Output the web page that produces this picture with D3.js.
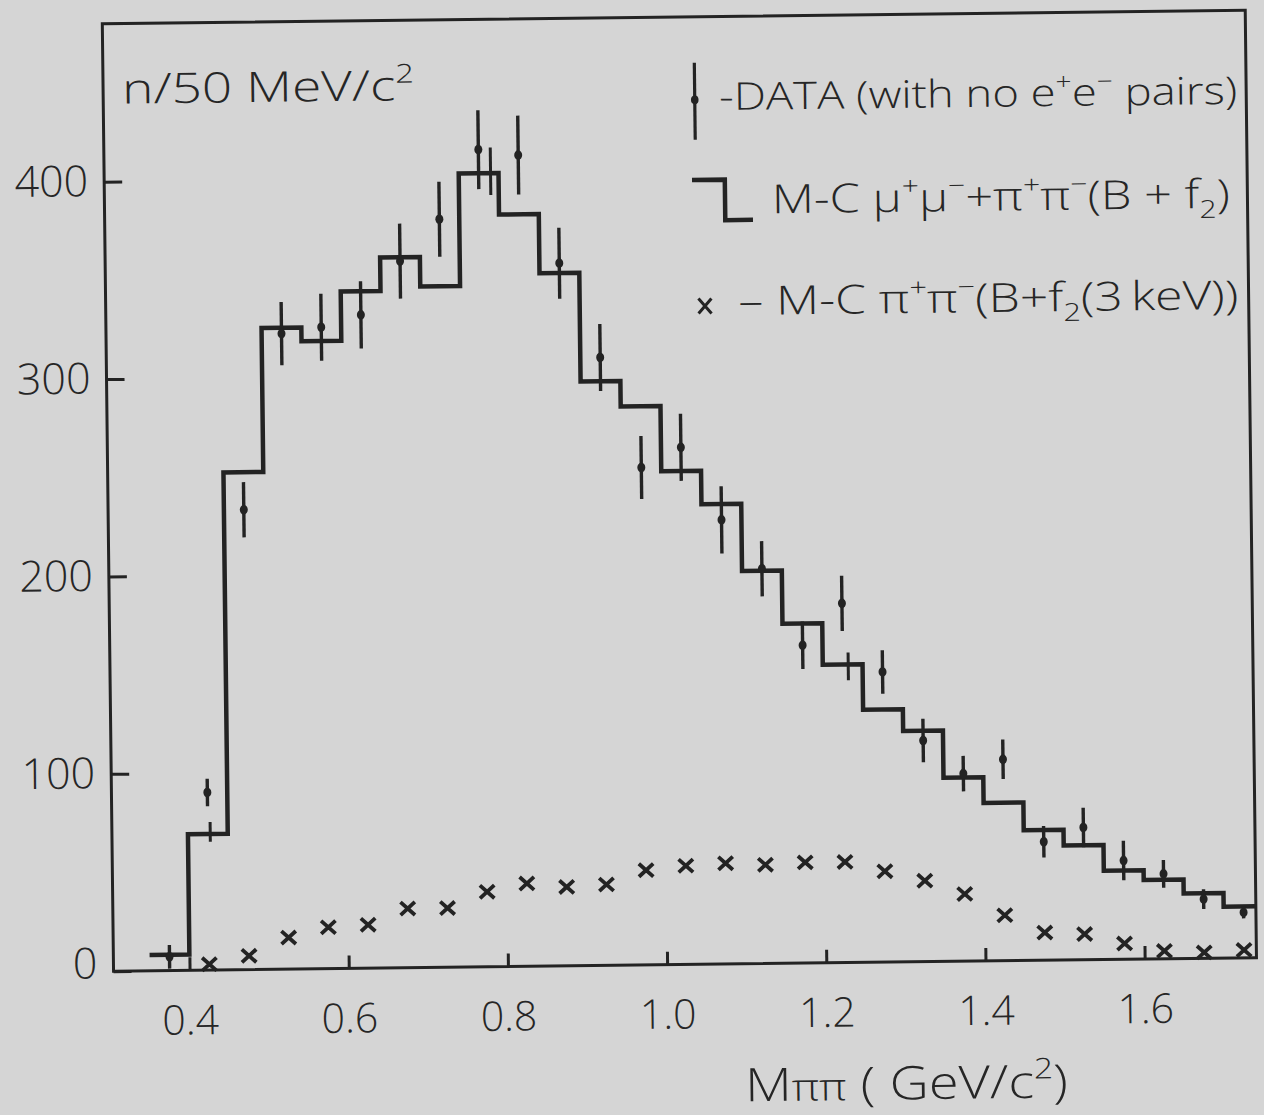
<!DOCTYPE html>
<html>
<head>
<meta charset="utf-8">
<script src="https://cdn.jsdelivr.net/npm/d3@7"></script>
<style>
  html, body { margin: 0; padding: 0; background: #d5d5d5; }
  svg { display: block; }
  text { font-family: "Open Sans", "DejaVu Sans", sans-serif; font-weight: 300; fill: #262626; }
</style>
</head>
<body>
<div id="chart"></div>
<script>
// 50 MeV bins, lower edges in GeV/c^2
const binLo = [0.35, 0.40, 0.45, 0.50, 0.55, 0.60, 0.65, 0.70, 0.75, 0.80, 0.85, 0.90, 0.95, 1.00,
               1.05, 1.10, 1.15, 1.20, 1.25, 1.30, 1.35, 1.40, 1.45, 1.50, 1.55, 1.60, 1.65, 1.70];
const binWidth = 0.05;

// M-C mu+mu- + pi+pi- (B + f2), histogram
const mcTotal = [8, 69, 252, 325, 318, 343, 360, 345, 402, 381, 351, 296, 283, 250,
                 233, 199, 172, 151, 128, 117, 93, 80, 66, 58, 45, 40, 33, 26];

// data (with no e+e- pairs) and its errors
const dataCounts = [7, 90, 233, 322, 325, 331, 358, 379, 414, 411, 356, 308, 252, 262,
                    225, 200, 161, 182, 147, 112, 95, 102, 60, 67, 50, 43, 30, 23];
const dataErr = [6, 7, 14, 16, 17, 17, 19, 19, 20, 20, 18, 17, 16, 17,
                 17, 14, 12, 14, 11, 11, 9, 10, 8, 10, 10, 7, 5, 3];

// M-C pi+pi- (B + f2(3 keV)), crosses
const mcPiPi = [null, 3, 7, 16, 21, 22, 30, 30, 38, 42, 40, 41, 48, 50,
                51, 50, 51, 51, 46, 41, 34, 23, 14, 13, 8, 4, 3, 4];

// the few M-C error bars drawn on the histogram
const mcErrMass = [0.428, 0.79, 1.232];
const mcErrVal = [70, 403, 150];
const mcErrSize = [5, 12, 7];

const xTicks = [0.4, 0.6, 0.8, 1.0, 1.2, 1.4, 1.6];
const yTicks = [0, 100, 200, 300, 400];

const width = 1264, height = 1115;
const frame = { left: 108, right: 1251, top: 17, bottom: 964.5 };
const ink = '#232323';

const svg = d3.select('#chart').append('svg')
    .attr('width', width)
    .attr('height', height);

svg.append('rect')
    .attr('width', width)
    .attr('height', height)
    .attr('fill', '#d5d5d5');

// the scanned figure sits a little tilted on the page
const g = svg.append('g').attr('transform', 'rotate(-0.68 680 500)');

const x = d3.scaleLinear().domain([0.3045, 1.7405]).range([frame.left, frame.right]);
const y = d3.scaleLinear().domain([0, 480]).range([frame.bottom, frame.top]);

// text with superscripts / subscripts
function richText(parent, xPos, yPos, size, parts, len) {
    const t = parent.append('text')
        .attr('x', xPos)
        .attr('y', yPos)
        .attr('font-size', size);
    let shift = 0;
    parts.forEach(p => {
        const s = t.append('tspan').text(p.t);
        let target = 0;
        if (p.sup) target = -0.42 * size;
        if (p.sub) target = 0.25 * size;
        if (target !== shift) {
            s.attr('dy', target - shift);
            shift = target;
        }
        if (p.sup || p.sub) s.attr('font-size', size * 0.62);
        if (p.size) s.attr('font-size', p.size);
    });
    if (len) t.attr('textLength', len).attr('lengthAdjust', 'spacingAndGlyphs');
    return t;
}

// frame
g.append('rect')
    .attr('x', frame.left)
    .attr('y', frame.top)
    .attr('width', frame.right - frame.left)
    .attr('height', frame.bottom - frame.top)
    .attr('fill', 'none')
    .attr('stroke', ink)
    .attr('stroke-width', 3);

// axes (ticks point inward)
const xAxis = d3.axisBottom(x)
    .tickValues(xTicks)
    .tickSizeInner(-13)
    .tickSizeOuter(0)
    .tickPadding(35)
    .tickFormat(d3.format('.1f'));
const gx = g.append('g')
    .attr('transform', `translate(0,${frame.bottom})`)
    .call(xAxis);
gx.select('.domain').remove();
gx.selectAll('line').attr('stroke', ink).attr('stroke-width', 3);
gx.selectAll('text').attr('font-size', 41);

const yAxis = d3.axisLeft(y)
    .tickValues(yTicks)
    .tickSizeInner(-18)
    .tickSizeOuter(0)
    .tickPadding(16)
    .tickFormat(d3.format('d'));
const gy = g.append('g')
    .attr('transform', `translate(${frame.left},0)`)
    .call(yAxis);
gy.select('.domain').remove();
gy.selectAll('line').attr('stroke', ink).attr('stroke-width', 3);
gy.selectAll('text').attr('font-size', 43);
// the hand-lettered "0" sits a little above the axis
gy.selectAll('.tick').filter(d => d === 0).select('text').attr('dy', '0.15em');

// M-C histogram
const xEnd = x.domain()[1];
const steps = binLo.map((lo, i) => [lo, mcTotal[i]]);
steps.push([Math.min(binLo[binLo.length - 1] + binWidth, xEnd), mcTotal[mcTotal.length - 1]]);
const stepLine = d3.line()
    .x(d => x(d[0]))
    .y(d => y(d[1]))
    .curve(d3.curveStepAfter);
g.append('path')
    .attr('d', stepLine(steps))
    .attr('fill', 'none')
    .attr('stroke', ink)
    .attr('stroke-width', 4.5)
    .attr('stroke-linejoin', 'miter');

// M-C error bars on the histogram
g.append('g').selectAll('line')
    .data(mcErrMass.map((m, i) => ({ m, v: mcErrVal[i], e: mcErrSize[i] })))
    .join('line')
    .attr('x1', d => x(d.m)).attr('x2', d => x(d.m))
    .attr('y1', d => y(d.v - d.e)).attr('y2', d => y(d.v + d.e))
    .attr('stroke', ink)
    .attr('stroke-width', 3);

// M-C pi+pi- crosses
const crossPath = (cx, cy, w, h) =>
    `M${cx - w},${cy - h}L${cx + w},${cy + h}M${cx - w},${cy + h}L${cx + w},${cy - h}`;
const crosses = binLo
    .map((lo, i) => ({ m: lo + binWidth / 2, v: mcPiPi[i] }))
    .filter(d => d.v != null);
g.append('g').selectAll('path')
    .data(crosses)
    .join('path')
    .attr('d', d => crossPath(x(d.m), y(d.v), 7.2, 6.5))
    .attr('fill', 'none')
    .attr('stroke', ink)
    .attr('stroke-width', 3.8);

// data points with errors
const points = binLo.map((lo, i) => ({ m: lo + binWidth / 2, v: dataCounts[i], e: dataErr[i] }));
const gp = g.append('g');
gp.selectAll('line')
    .data(points)
    .join('line')
    .attr('x1', d => x(d.m)).attr('x2', d => x(d.m))
    .attr('y1', d => y(Math.max(0, d.v - d.e))).attr('y2', d => y(d.v + d.e))
    .attr('stroke', ink)
    .attr('stroke-width', 3.4);
gp.selectAll('ellipse')
    .data(points)
    .join('ellipse')
    .attr('cx', d => x(d.m))
    .attr('cy', d => y(d.v))
    .attr('rx', 4)
    .attr('ry', 4.8)
    .attr('fill', ink);

// y label inside the frame
richText(g, 127, 97, 42, [{ t: 'n/50 MeV/c' }, { t: '2', sup: true }], 292);

// legend
const lg = g.append('g');
lg.append('line')
    .attr('x1', 699.5).attr('x2', 699.5)
    .attr('y1', 63).attr('y2', 140)
    .attr('stroke', ink).attr('stroke-width', 3.2);
lg.append('ellipse')
    .attr('cx', 699.5).attr('cy', 100)
    .attr('rx', 3.8).attr('ry', 4.4)
    .attr('fill', ink);
richText(lg, 724, 110.5, 38, [
    { t: '-DATA (with no e' }, { t: '+', sup: true }, { t: 'e' }, { t: '\u2212', sup: true }, { t: ' pairs)' }
], 518);

lg.append('path')
    .attr('d', 'M695.8,180.2H728.6V220.7H756.3')
    .attr('fill', 'none')
    .attr('stroke', ink)
    .attr('stroke-width', 4.5);
richText(lg, 775.4, 214.3, 40, [
    { t: 'M-C  \u03bc' }, { t: '+', sup: true }, { t: '\u03bc' }, { t: '\u2212', sup: true },
    { t: '+\u03c0' }, { t: '+', sup: true }, { t: '\u03c0' }, { t: '\u2212', sup: true },
    { t: '(B + f' }, { t: '2', sub: true }, { t: ')' }
], 458);

lg.append('path')
    .attr('d', crossPath(707.3, 306.3, 6.5, 7.5))
    .attr('fill', 'none')
    .attr('stroke', ink)
    .attr('stroke-width', 3);
richText(lg, 740.7, 315.7, 40, [
    { t: '\u2013 M-C \u03c0' }, { t: '+', sup: true }, { t: '\u03c0' }, { t: '\u2212', sup: true },
    { t: '(B+f' }, { t: '2', sub: true }, { t: '(3\u2009keV))' }
], 500);

// x axis title
richText(g, 738, 1102, 46, [
    { t: 'M' }, { t: '\u03c0\u03c0', size: 38 }, { t: ' ( GeV/c' }, { t: '2', sup: true }, { t: ')' }
], 323);
</script>
</body>
</html>
